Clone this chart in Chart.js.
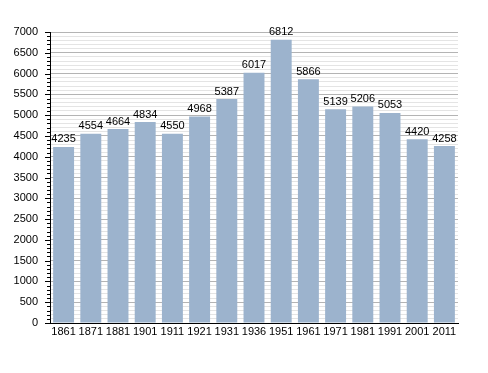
<!DOCTYPE html>
<html>
<head>
<meta charset="utf-8">
<script src="https://cdn.jsdelivr.net/npm/chart.js@4"></script>
<style>
  html, body { margin: 0; padding: 0; background: #fff; }
  #wrap { width: 488px; height: 373px; }
</style>
</head>
<body>
<div id="wrap"><canvas id="popChart" width="488" height="373"></canvas></div>
<script>
// dati della popolazione
const years = ['1861', '1871', '1881', '1901', '1911', '1921', '1931', '1936', '1951', '1961', '1971', '1981', '1991', '2001', '2011'];
const population = [4235, 4554, 4664, 4834, 4550, 4968, 5387, 6017, 6812, 5866, 5139, 5206, 5053, 4420, 4258];
const yMax = 7000;

const FONT = 'Liberation Sans, Arial, sans-serif';

// etichette sopra le barre + tacche dell'asse y
const extras = {
  id: 'extras',
  afterDatasetsDraw(chart) {
    const c = chart.ctx;
    const meta = chart.getDatasetMeta(0);
    c.save();
    c.fillStyle = '#000';
    c.font = '11px ' + FONT;
    c.textAlign = 'center';
    c.textBaseline = 'bottom';
    meta.data.forEach((bar, i) => {
      c.fillText(String(population[i]), bar.x, bar.y - 2);
    });
    // tacche
    const y = chart.scales.y;
    const left = chart.chartArea.left;
    c.strokeStyle = '#000';
    c.lineWidth = 1;
    for (let v = 0; v <= yMax; v += 100) {
      const py = Math.round(y.getPixelForValue(v)) + 0.5;
      const len = v % 500 === 0 ? 5 : 3;
      c.beginPath();
      c.moveTo(left - len, py);
      c.lineTo(left, py);
      c.stroke();
    }
    c.restore();
  }
};

new Chart(document.getElementById('popChart'), {
  type: 'bar',
  data: {
    labels: years,
    datasets: [{
      data: population,
      backgroundColor: '#9cb3cd',
      borderWidth: 0,
      barPercentage: 0.77,
      categoryPercentage: 1.0
    }]
  },
  options: {
    responsive: false,
    animation: false,
    layout: { padding: { left: 0, right: 30, top: 32, bottom: 0 } },
    plugins: {
      legend: { display: false },
      tooltip: { enabled: false }
    },
    scales: {
      x: {
        grid: { display: false, drawTicks: false },
        border: { color: '#000', width: 1 },
        ticks: { color: '#000', font: { family: FONT, size: 11 }, padding: 2, maxRotation: 0, autoSkip: false },
        afterFit(scale) { scale.height = 50; }
      },
      y: {
        min: 0,
        max: yMax,
        grid: {
          drawTicks: false,
          color: ctx => (ctx.tick && ctx.tick.value % 500 === 0) ? '#b4b4b4' : '#e4e4e4',
          lineWidth: 1
        },
        border: { color: '#000', width: 1 },
        ticks: {
          stepSize: 100,
          autoSkip: false,
          color: '#000',
          font: { family: FONT, size: 11 },
          padding: 12,
          callback: v => (v % 500 === 0 ? v : '')
        },
        afterFit(scale) { scale.width = 50; }
      }
    }
  },
  plugins: [extras]
});
</script>
</body>
</html>
